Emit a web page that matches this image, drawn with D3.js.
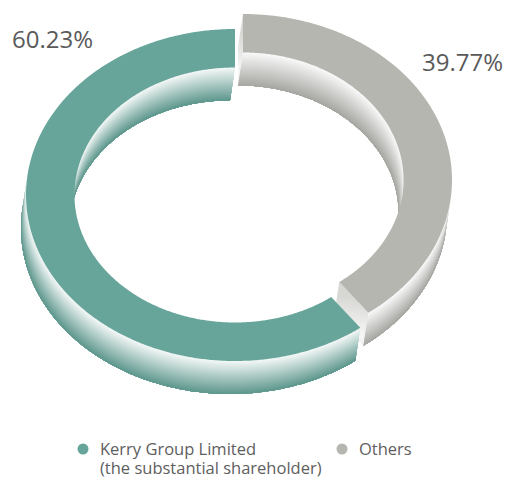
<!DOCTYPE html>
<meta charset="utf-8">
<style>
body { margin: 0; background: #fff; }
text { font-family: "Open Sans", sans-serif; }
</style>
<body>
<svg id="chart" width="510" height="479"></svg>

<script src="https://d3js.org/d3.v7.min.js"></script>
<script>

// shareholding split
var categories = ["Kerry Group Limited", "Others"];
var legendLines = [["Kerry Group Limited", "(the substantial shareholder)"], ["Others"]];
var values = [60.23, 39.77];
var valueLabels = ["60.23%", "39.77%"];
var colors = ["#67a59a", "#b6b6b1"];

var svg = d3.select("#chart");

// ring geometry (tilted ellipse, extruded downwards)
var rx = 209, ry = 166, innerFrac = 0.768;
var depth = [-5, 33];
var centers = [[235, 195], [243, 180]];   // slices are pulled apart a little

var color = d3.scaleOrdinal().domain(categories).range(colors);
var radX = d3.scaleLinear().domain([0, 1]).range([0, rx]);
var radY = d3.scaleLinear().domain([0, 1]).range([0, ry]);

// clockwise from 12 o'clock, Kerry ends at the top
var pie = d3.pie().sort(null).startAngle(2 * Math.PI).endAngle(0);
var arcs = pie(values);

var line = d3.line();

function pt(c, a, r, t) {
  return [c[0] + radX(r) * Math.sin(a) + t * depth[0],
          c[1] - radY(r) * Math.cos(a) + t * depth[1]];
}

function angles(lo, hi) {
  var n = Math.max(2, Math.ceil((hi - lo) / (Math.PI / 360)));
  return d3.range(n + 1).map(function(i) { return lo + (hi - lo) * i / n; });
}

// a wall faces us when its normal points along the extrusion
function facing(a, outer) {
  var d = Math.sin(a) / rx * depth[0] - Math.cos(a) / ry * depth[1];
  return outer ? d > 0 : d < 0;
}

function runs(list, outer) {
  var out = [], cur = [];
  list.forEach(function(a) {
    if (facing(a, outer)) cur.push(a);
    else { if (cur.length > 1) out.push(cur); cur = []; }
  });
  if (cur.length > 1) out.push(cur);
  return out;
}

function drawWall(g, c, list, r, base) {
  var top = d3.interpolateRgb(base, "#ffffff")(0.92);
  var bottom = d3.color(base).darker(0.25).formatHex();
  var shade = d3.interpolateRgb(top, bottom);
  var steps = 30;
  d3.range(steps).forEach(function(s) {
    var t = s / steps;
    var pts = list.map(function(a) { return pt(c, a, r, t); })
      .concat(list.slice().reverse().map(function(a) { return pt(c, a, r, 1); }));
    g.append("path")
      .attr("d", line(pts) + "Z")
      .attr("fill", shade((s + 0.5) / steps));
  });
}

var defs = svg.append("defs");

// back slice first
var order = arcs.map(function(d, i) { return i; })
  .sort(function(a, b) { return centers[a][1] - centers[b][1]; });

order.forEach(function(i) {
  var d = arcs[i];
  var c = centers[i];
  var base = color(categories[i]);
  var lo = Math.min(d.startAngle, d.endAngle), hi = Math.max(d.startAngle, d.endAngle);
  var list = angles(lo, hi);
  var g = svg.append("g").attr("class", "slice");

  runs(list, false).forEach(function(run) { drawWall(g, c, run, innerFrac, base); });
  runs(list, true).forEach(function(run) { drawWall(g, c, run, 1, base); });

  // cut faces
  [[lo, -1], [hi, 1]].forEach(function(e, k) {
    var a = e[0];
    var p0 = pt(c, a, innerFrac, 0), p1 = pt(c, a, 1, 0);
    var rv = [p1[0] - p0[0], p1[1] - p0[1]];
    var tv = [e[1] * rx * Math.cos(a), e[1] * ry * Math.sin(a)];
    var ce = rv[0] * depth[1] - rv[1] * depth[0];
    var ct = rv[0] * tv[1] - rv[1] * tv[0];
    if (ce * ct <= 0) return;
    var id = "cap" + i + "_" + k;
    var m0 = pt(c, a, (1 + innerFrac) / 2, 0), m1 = pt(c, a, (1 + innerFrac) / 2, 1);
    var gr = defs.append("linearGradient").attr("id", id)
      .attr("gradientUnits", "userSpaceOnUse")
      .attr("x1", m0[0]).attr("y1", m0[1]).attr("x2", m1[0]).attr("y2", m1[1]);
    gr.append("stop").attr("offset", 0).attr("stop-color", d3.interpolateRgb(base, "#fff")(0.45));
    gr.append("stop").attr("offset", 1).attr("stop-color", d3.interpolateRgb(base, "#fff")(0.85));
    g.append("path")
      .attr("d", line([p0, p1, pt(c, a, 1, 1), pt(c, a, innerFrac, 1)]) + "Z")
      .attr("fill", "url(#" + id + ")");
  });

  // top face
  var face = list.map(function(a) { return pt(c, a, 1, 0); })
    .concat(list.slice().reverse().map(function(a) { return pt(c, a, innerFrac, 0); }));
  g.append("path")
    .attr("d", line(face) + "Z")
    .attr("fill", base);
});

// percentage labels
svg.append("text")
  .attr("x", 12).attr("y", 48)
  .attr("font-size", 24)
  .attr("fill", "#5a5a5a")
  .text(valueLabels[0]);

svg.append("text")
  .attr("x", 503).attr("y", 71)
  .attr("text-anchor", "end")
  .attr("font-size", 24)
  .attr("fill", "#5a5a5a")
  .text(valueLabels[1]);

// legend
var legendX = [83, 342];
var leg = svg.selectAll("g.legend")
  .data(categories)
  .enter().append("g")
    .attr("class", "legend")
    .attr("transform", function(d, i) { return "translate(" + legendX[i] + ",449)"; });

leg.append("circle")
  .attr("r", 5.5)
  .attr("fill", function(d) { return color(d); });

leg.append("text")
  .attr("x", 17).attr("y", 6)
  .attr("font-size", 16.5)
  .attr("fill", "#5e5e5e")
  .selectAll("tspan")
  .data(function(d, i) { return legendLines[i]; })
  .enter().append("tspan")
    .attr("x", 17)
    .attr("dy", function(d, j) { return j ? 19 : 0; })
    .text(function(d) { return d; });

</script>
</body>
